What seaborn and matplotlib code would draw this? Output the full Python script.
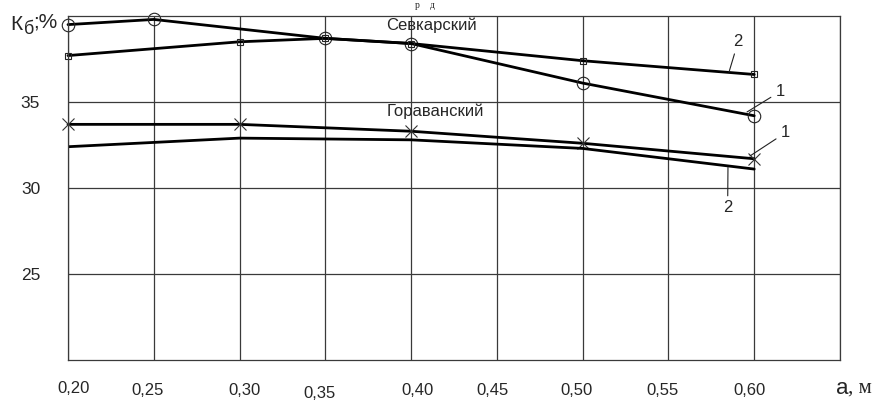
import matplotlib
matplotlib.use('Agg')
import matplotlib.pyplot as plt
import matplotlib.transforms as mtransforms
import seaborn as sns
import pandas as pd

# Севкарский, curves 1 and 2
a_sev1 = [0.20, 0.25, 0.35, 0.40, 0.50, 0.60]
k_sev1 = [39.5, 39.8, 38.7, 38.4, 36.1, 34.2]
a_sev2 = [0.20, 0.30, 0.35, 0.40, 0.50, 0.60]
k_sev2 = [37.7, 38.5, 38.7, 38.4, 37.4, 36.6]
# Гораванский, curves 1 and 2
a_gor1 = [0.20, 0.30, 0.40, 0.50, 0.60]
k_gor1 = [33.7, 33.7, 33.3, 32.6, 31.7]
a_gor2 = [0.20, 0.30, 0.40, 0.50, 0.60]
k_gor2 = [32.4, 32.9, 32.8, 32.3, 31.1]

x_ticks = [0.20, 0.25, 0.30, 0.35, 0.40, 0.45, 0.50, 0.55, 0.60]
x_labels = ['0,20', '0,25', '0,30', '0,35', '0,40', '0,45', '0,50', '0,55', '0,60']
y_ticks = [25, 30, 35]
y_labels = ['25', '30', '35']

sns.set_style('white')
plt.rcParams['font.family'] = ['Liberation Sans', 'DejaVu Sans']

fig = plt.figure(figsize=(8.8, 4.01), dpi=100)
ax = fig.add_axes([68 / 880, 1 - 360 / 401, 772 / 880, 344 / 401])

gc = '#3a3a3a'
lw = 2.0
sns.lineplot(x=a_sev1, y=k_sev1, ax=ax, color='black', lw=lw, marker='o', markersize=9, clip_on=False,
             markerfacecolor='none', markeredgecolor='#222222', markeredgewidth=0.8)
sns.lineplot(x=a_sev2, y=k_sev2, ax=ax, color='black', lw=lw, marker='s', markersize=5, clip_on=False,
             markerfacecolor='none', markeredgecolor='#222222', markeredgewidth=0.8)
sns.lineplot(x=a_gor1, y=k_gor1, ax=ax, color='black', lw=lw, marker='x', markersize=9, clip_on=False,
             markeredgecolor='#333333', markeredgewidth=0.8)
sns.lineplot(x=a_gor2, y=k_gor2, ax=ax, color='black', lw=lw)

ax.set_xlim(0.20, 0.65)
ax.set_ylim(20, 40)
ax.set_xticks(x_ticks + [0.65])
ax.set_xticklabels(x_labels + [''], fontsize=12)
ax.set_yticks(y_ticks)
ax.set_yticklabels(y_labels, fontsize=12.5)
ax.tick_params(axis='both', length=0)
ax.tick_params(axis='x', pad=16.5)
ax.tick_params(axis='y', pad=20)
ax.grid(True, color=gc, lw=0.9)
for s in ax.spines.values():
    s.set_color(gc)
    s.set_linewidth(0.9)
ax.set_xlabel('')
ax.set_ylabel('')

# scanned labels are slightly off their grid lines
dx_px = [6, -6, 5, -6, 6, -4, -6, -6, -5, 0]
dy_px = [-2, 0, 0, 3, 0, 0, 0, 0, 0, 0]
for lab, dx, dy in zip(ax.get_xticklabels(), dx_px, dy_px):
    lab.set_transform(lab.get_transform() + mtransforms.ScaledTranslation(dx / 100, -dy / 100, fig.dpi_scale_trans))

# curve names
ax.text(0.412, 39.45, 'Севкарский', fontsize=12, ha='center', va='center')
ax.text(0.414, 34.45, 'Гораванский', fontsize=12, ha='center', va='center')

# curve numbers with leaders
arr = dict(arrowstyle='-', lw=0.8, color='#222222', shrinkA=1, shrinkB=0)
ax.annotate('2', xy=(0.5853, 36.74), xytext=(0.5906, 38.5), fontsize=12, ha='center', va='center', arrowprops=arr)
ax.annotate('1', xy=(0.5958, 34.42), xytext=(0.615, 35.6), fontsize=12, ha='center', va='center', arrowprops=arr)
ax.annotate('1', xy=(0.5975, 31.86), xytext=(0.618, 33.2), fontsize=12, ha='center', va='center', arrowprops=arr)
ax.annotate('2', xy=(0.5847, 31.2), xytext=(0.5845, 28.84), fontsize=12, ha='center', va='center', arrowprops=arr)

# axis titles
fig.text(10 / 880, 1 - 24 / 401, 'К', fontsize=15, ha='left', va='center')
fig.text(24 / 880, 1 - 29 / 401, 'б', fontsize=13, ha='left', va='center')
fig.text(33 / 880, 1 - 22 / 401, ';%', fontsize=15, ha='left', va='center')
fig.text(836 / 880, 1 - 388 / 401, 'а', fontsize=16, ha='left', va='center')
fig.text(848 / 880, 1 - 388 / 401, ', м', fontsize=15, ha='left', va='center', family='Liberation Serif')

# remnant of the caption at the top edge
fig.text(425 / 880, 1 - 1 / 401, 'р    д', fontsize=7, ha='center', va='top', family='Liberation Serif')

fig.savefig('out.png', dpi=100)
